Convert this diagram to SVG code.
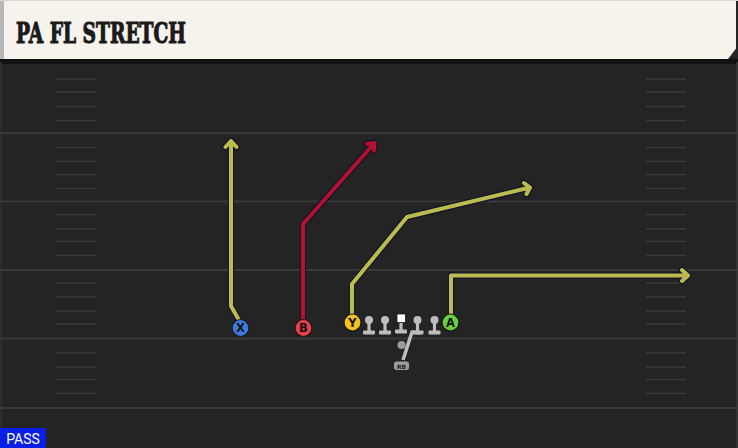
<svg xmlns="http://www.w3.org/2000/svg" width="738" height="448" viewBox="0 0 738 448">
<style>
.yl{stroke:#393939;stroke-width:2}
.hm{stroke:#3a3a3a;stroke-width:1.6}
.ol{fill:none;stroke:#14142a;stroke-width:6.5;stroke-linejoin:round;stroke-linecap:round}
.ry{fill:none;stroke:#bcbc4e;stroke-width:4;stroke-linejoin:round;stroke-linecap:round}
.rr{fill:none;stroke:#b2122f;stroke-width:4;stroke-linejoin:round;stroke-linecap:round}
.pl{stroke:#151515;stroke-width:1.2}
.lt{font-family:"DejaVu Sans","Liberation Sans",sans-serif;font-weight:bold;font-size:11.5px;fill:#111;text-anchor:middle}
.ln{fill:#bdbdbd}
</style>
<defs>
<g id="lineman">
<rect x="-1.6" y="-2" width="3.2" height="11" class="ln"/>
<rect x="-6" y="8.5" width="12" height="4" rx="1" class="ln"/>
<circle cx="0" cy="-2" r="4" class="ln"/>
</g>
</defs>
<rect x="0" y="0" width="738" height="448" fill="#242424"/>
<rect x="0" y="59" width="738" height="5" fill="#111"/>
<rect x="736" y="62" width="2" height="386" fill="#333"/>
<rect x="0" y="62" width="2" height="386" fill="#2c2c2c"/>
<g id="field">
<line class="yl" x1="0" y1="133" x2="738" y2="133"/>
<line class="yl" x1="0" y1="201.5" x2="738" y2="201.5"/>
<line class="yl" x1="0" y1="270" x2="738" y2="270"/>
<line class="yl" x1="0" y1="338.5" x2="738" y2="338.5"/>
<line class="yl" x1="0" y1="408" x2="738" y2="408"/>
<g id="hl">
<line class="hm" x1="56" y1="79" x2="96" y2="79"/>
<line class="hm" x1="56" y1="92" x2="96" y2="92"/>
<line class="hm" x1="56" y1="106.5" x2="96" y2="106.5"/>
<line class="hm" x1="56" y1="120.5" x2="96" y2="120.5"/>
<line class="hm" x1="56" y1="147.5" x2="96" y2="147.5"/>
<line class="hm" x1="56" y1="161.5" x2="96" y2="161.5"/>
<line class="hm" x1="56" y1="174.5" x2="96" y2="174.5"/>
<line class="hm" x1="56" y1="188.5" x2="96" y2="188.5"/>
<line class="hm" x1="56" y1="214.5" x2="96" y2="214.5"/>
<line class="hm" x1="56" y1="229" x2="96" y2="229"/>
<line class="hm" x1="56" y1="241.5" x2="96" y2="241.5"/>
<line class="hm" x1="56" y1="255.5" x2="96" y2="255.5"/>
<line class="hm" x1="56" y1="283" x2="96" y2="283"/>
<line class="hm" x1="56" y1="297" x2="96" y2="297"/>
<line class="hm" x1="56" y1="311" x2="96" y2="311"/>
<line class="hm" x1="56" y1="324" x2="96" y2="324"/>
<line class="hm" x1="56" y1="353" x2="96" y2="353"/>
<line class="hm" x1="56" y1="367" x2="96" y2="367"/>
<line class="hm" x1="56" y1="379.5" x2="96" y2="379.5"/>
<line class="hm" x1="56" y1="393.5" x2="96" y2="393.5"/>
</g>
<use href="#hl" x="590"/>
</g>
<g id="header">
<rect x="0" y="0" width="736" height="59" fill="#f5f3ec"/>
<polygon points="728,59 738,59 738,46" fill="#242424"/>
<rect x="0" y="0" width="4" height="59" fill="#b8b8b8"/>
<rect x="0" y="0" width="738" height="1" fill="#d8d8d8"/>
<text x="16" y="43" font-family="'DejaVu Serif','Liberation Serif',serif" font-weight="bold" font-size="28" fill="#1a1a1a" stroke="#1a1a1a" stroke-width="1.1" textLength="170" lengthAdjust="spacingAndGlyphs">PA FL STRETCH</text>
</g>
<g id="connectors">
<g id="route-x">
<path class="ol" d="M240,322 L231,306 L231,141 M225.5,147 L231,141 L236.5,147"/>
<path class="ry" d="M240,322 L231,306 L231,141 M225.5,147 L231,141 L236.5,147"/>
</g>
<g id="route-b">
<path class="ol" d="M303,320 L303,224 L374.5,143 M367,144 L374.5,143 L374,150.5"/>
<path class="rr" d="M303,320 L303,224 L374.5,143 M367,144 L374.5,143 L374,150.5"/>
</g>
<g id="route-y">
<path class="ol" d="M352,315 L352,284 L407,217 L530,187.5 M524,183 L530,187.5 L526.5,194"/>
<path class="ry" d="M352,315 L352,284 L407,217 L530,187.5 M524,183 L530,187.5 L526.5,194"/>
</g>
<g id="route-a">
<path class="ol" d="M451,315 L451,275.5 L688,275.5 M682,270 L688,275.5 L682,281"/>
<path class="ry" d="M451,315 L451,275.5 L688,275.5 M682,270 L688,275.5 L682,281"/>
</g>
<g id="route-rb">
<path d="M403,360 L412,332 L420,333" fill="none" stroke="#bdbdbd" stroke-width="3.5" stroke-linejoin="round"/>
</g>
</g>
<g id="player-x"><circle class="pl" cx="240.5" cy="328" r="8.5" fill="#3d7ae0"/><text class="lt" x="240.5" y="332.3">X</text></g>
<g id="player-b"><circle class="pl" cx="303.5" cy="328" r="8.5" fill="#e8404a"/><text class="lt" x="303.5" y="332.3">B</text></g>
<g id="player-y"><circle class="pl" cx="352.5" cy="322.5" r="8.5" fill="#f2c21e"/><text class="lt" x="352.5" y="326.8">Y</text></g>
<g id="player-a"><circle class="pl" cx="450.5" cy="322.5" r="8.5" fill="#66d13c"/><text class="lt" x="450.5" y="326.8">A</text></g>
<g id="lt"><use href="#lineman" x="369" y="322"/></g>
<g id="lg"><use href="#lineman" x="385" y="322"/></g>
<g id="c">
<rect x="399.4" y="318" width="3.2" height="13" class="ln"/>
<rect x="395" y="329.5" width="12" height="4" rx="1" class="ln"/>
<rect x="397" y="314" width="8.5" height="8.5" fill="#fff" stroke="#151515" stroke-width="0.8"/>
</g>
<g id="rg"><use href="#lineman" x="417.5" y="322"/></g>
<g id="rt"><use href="#lineman" x="434.5" y="322"/></g>
<g id="qb"><circle cx="401.5" cy="345" r="4" fill="#9a9a9a"/></g>
<g id="rb">
<rect x="393.5" y="361" width="16" height="9.5" rx="3" fill="#9c9c9c" stroke="#151515" stroke-width="0.8"/>
<text x="401.5" y="368.5" font-family="'DejaVu Sans','Liberation Sans',sans-serif" font-size="6" font-weight="bold" fill="#222" text-anchor="middle">RB</text>
</g>
<g id="pass">
<rect x="0" y="428" width="46" height="20" fill="#0a1ee6"/>
<text x="23" y="444" font-family="'Roboto','Liberation Sans',sans-serif" font-size="14" fill="#fff" text-anchor="middle">PASS</text>
</g>
</svg>
